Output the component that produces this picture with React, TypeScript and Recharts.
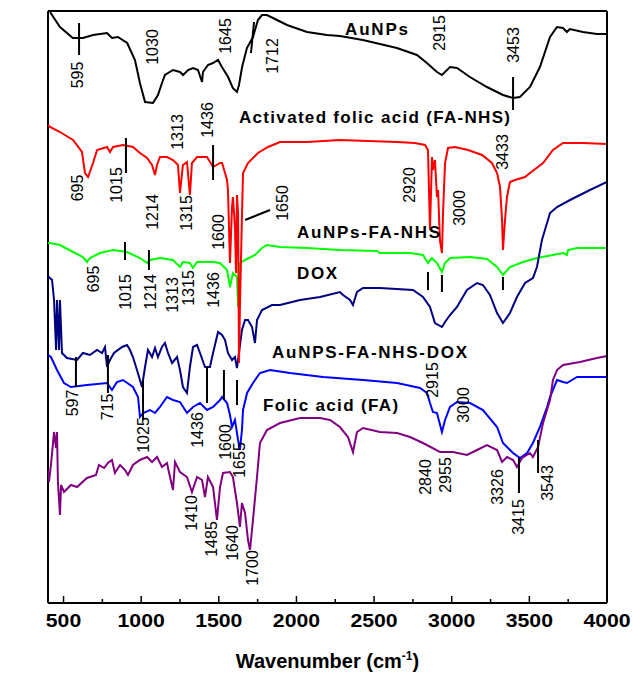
import React from "react";
import {
  LineChart,
  Line,
  XAxis,
  YAxis,
  ReferenceLine,
  ReferenceDot,
} from "recharts";

// FTIR spectra, [wavenumber (cm-1), transmittance (a.u.)]
const auNps: [number, number][] = [
  [413, 591], [477, 576], [560, 565], [600, 565], [625, 565], [690, 568], [780, 570],
  [812, 565], [850, 566], [910, 560], [960, 543], [992, 520], [1025, 501], [1076, 500],
  [1108, 508], [1134, 520], [1153, 528], [1205, 533], [1250, 531], [1270, 528], [1302, 533],
  [1334, 535], [1366, 533], [1392, 521], [1398, 531], [1430, 538], [1462, 540], [1495, 543],
  [1520, 536], [1560, 526], [1590, 515], [1617, 511], [1630, 518], [1650, 536], [1681, 555],
  [1720, 566], [1752, 583], [1778, 588], [1810, 588], [1849, 585], [1939, 578], [2068, 571],
  [2197, 568], [2280, 567], [2428, 563], [2647, 555], [2776, 548], [2840, 540], [2905, 531],
  [2937, 528], [2989, 536], [3034, 535], [3117, 526], [3227, 516], [3330, 508], [3394, 505],
  [3439, 506], [3504, 516], [3568, 536], [3633, 566], [3678, 576], [3716, 575], [3742, 571],
  [3761, 574], [3845, 571], [3935, 569], [4000, 569],
];

const faNhs: [number, number][] = [
  [400, 478], [413, 476], [477, 471], [561, 463], [619, 451], [638, 430], [658, 426],
  [690, 440], [716, 453], [780, 456], [799, 451], [819, 456], [883, 458], [947, 456],
  [992, 450], [1038, 445], [1070, 438], [1089, 428], [1102, 438], [1121, 446], [1166, 446],
  [1205, 443], [1237, 438], [1250, 410], [1269, 438], [1295, 441], [1314, 408], [1327, 440],
  [1360, 446], [1424, 446], [1463, 436], [1508, 440], [1521, 440], [1540, 430], [1553, 423],
  [1559, 413], [1572, 340], [1585, 396], [1591, 406], [1604, 376], [1611, 330], [1617, 408],
  [1624, 390], [1630, 240], [1636, 296], [1649, 386], [1656, 430], [1688, 440], [1752, 450],
  [1817, 456], [1894, 461], [2068, 461], [2280, 463], [2647, 461], [2763, 460], [2828, 458],
  [2847, 453], [2860, 373], [2873, 446], [2879, 433], [2892, 443], [2905, 406], [2912, 413],
  [2924, 363], [2937, 350], [2944, 390], [2957, 440], [2976, 455], [3021, 456], [3105, 453],
  [3195, 448], [3259, 440], [3292, 430], [3311, 416], [3324, 383], [3330, 353], [3343, 383],
  [3356, 406], [3375, 421], [3407, 423], [3472, 426], [3504, 430], [3588, 440], [3652, 453],
  [3717, 460], [3845, 460], [4000, 459],
];

const auNpsFaNhs: [number, number][] = [
  [400, 360], [413, 360], [477, 358], [561, 351], [625, 346], [651, 341], [670, 345],
  [735, 350], [819, 353], [909, 351], [992, 345], [1038, 340], [1057, 343], [1121, 345],
  [1205, 343], [1250, 336], [1269, 341], [1314, 340], [1334, 335], [1360, 341], [1424, 341],
  [1463, 341], [1508, 340], [1553, 333], [1572, 316], [1591, 330], [1617, 326], [1624, 296],
  [1636, 340], [1669, 343], [1733, 348], [1778, 355], [1810, 358], [1894, 356], [2068, 355],
  [2280, 353], [2519, 352], [2538, 350], [2731, 350], [2815, 348], [2847, 340], [2873, 345],
  [2905, 340], [2937, 331], [2957, 340], [2989, 345], [3118, 346], [3227, 344], [3292, 336],
  [3330, 328], [3375, 336], [3459, 341], [3549, 345], [3717, 350], [3742, 348], [3749, 353],
  [3807, 355], [4000, 355],
];

const dox: [number, number][] = [
  [400, 326], [406, 326], [426, 323], [439, 303], [452, 253], [458, 303], [471, 253],
  [477, 303], [490, 250], [522, 245], [587, 243], [625, 250], [670, 248], [716, 253],
  [748, 250], [767, 256], [780, 236], [799, 243], [825, 250], [877, 256], [909, 258],
  [928, 253], [947, 246], [973, 233], [992, 223], [1005, 216], [1025, 236], [1044, 253],
  [1070, 246], [1089, 255], [1108, 246], [1134, 256], [1153, 260], [1173, 250], [1199, 240],
  [1231, 246], [1250, 233], [1269, 216], [1295, 210], [1314, 236], [1334, 256], [1360, 258],
  [1379, 250], [1411, 236], [1443, 236], [1463, 250], [1495, 271], [1521, 268], [1540, 263],
  [1559, 250], [1585, 243], [1604, 246], [1617, 235], [1649, 273], [1669, 283], [1688, 283],
  [1714, 276], [1733, 260], [1746, 283], [1778, 293], [1843, 298], [1894, 298], [2023, 303],
  [2152, 306], [2280, 311], [2300, 308], [2345, 303], [2364, 298], [2390, 311], [2429, 315],
  [2538, 315], [2751, 313], [2815, 306], [2860, 296], [2892, 280], [2937, 276], [2957, 281],
  [2989, 288], [3034, 296], [3098, 313], [3163, 320], [3201, 318], [3246, 308], [3292, 290],
  [3330, 280], [3375, 290], [3420, 306], [3472, 320], [3523, 325], [3549, 336], [3581, 363],
  [3633, 390], [3678, 396], [3762, 403], [3890, 413], [4000, 421],
];

const auNpsFaNhsDox: [number, number][] = [
  [400, 248], [419, 246], [458, 233], [503, 220], [548, 216], [651, 218], [780, 220],
  [812, 213], [844, 221], [883, 223], [947, 216], [980, 206], [992, 186], [1012, 190],
  [1057, 193], [1089, 190], [1121, 196], [1166, 206], [1205, 203], [1250, 201], [1295, 190],
  [1334, 196], [1379, 200], [1424, 193], [1463, 196], [1508, 203], [1521, 206], [1553, 200],
  [1572, 188], [1585, 176], [1604, 183], [1624, 163], [1636, 153], [1649, 173], [1656, 193],
  [1682, 210], [1720, 220], [1765, 230], [1830, 233], [1958, 230], [2171, 226], [2429, 223],
  [2648, 220], [2796, 215], [2841, 210], [2860, 200], [2879, 191], [2905, 190], [2937, 171],
  [2957, 183], [2989, 196], [3034, 201], [3118, 200], [3201, 193], [3292, 176], [3330, 160],
  [3395, 150], [3440, 145], [3485, 150], [3523, 160], [3568, 176], [3614, 196], [3633, 206],
  [3678, 223], [3717, 221], [3742, 220], [3807, 226], [4000, 226],
];

const folicAcid: [number, number][] = [
  [400, 133], [406, 121], [419, 138], [439, 171], [452, 155], [458, 171], [464, 121],
  [477, 88], [484, 118], [503, 111], [548, 118], [587, 116], [651, 125], [709, 128],
  [728, 138], [761, 135], [786, 140], [812, 143], [831, 130], [864, 138], [896, 133],
  [915, 128], [947, 138], [992, 143], [1038, 146], [1070, 141], [1102, 146], [1134, 136],
  [1166, 140], [1186, 126], [1205, 113], [1218, 141], [1250, 131], [1295, 126], [1327, 111],
  [1360, 126], [1392, 123], [1411, 106], [1430, 126], [1463, 116], [1488, 83], [1508, 116],
  [1527, 130], [1572, 131], [1591, 126], [1617, 100], [1636, 76], [1649, 100], [1669, 90],
  [1688, 63], [1701, 53], [1720, 83], [1746, 126], [1765, 160], [1810, 173], [1894, 180],
  [2023, 185], [2152, 185], [2216, 183], [2280, 176], [2332, 166], [2364, 151], [2390, 171],
  [2429, 175], [2538, 171], [2648, 170], [2731, 166], [2815, 160], [2924, 151], [3008, 151],
  [3098, 148], [3163, 153], [3227, 158], [3292, 153], [3324, 141], [3356, 146], [3395, 143],
  [3420, 136], [3453, 145], [3504, 150], [3523, 146], [3556, 156], [3588, 180], [3633, 203],
  [3652, 223], [3678, 233], [3717, 238], [3826, 241], [3935, 245], [4000, 247],
];

// peak labels: [text, wavenumber, transmittance]
const peakLabels: [string, number, number][] = [
  ["595", 593, 528], ["1030", 1076, 556], ["1645", 1540, 567], ["1712", 1843, 547],
  ["2915", 2924, 570], ["3453", 3395, 558],
  ["695", 593, 415], ["1015", 844, 418], ["1214", 1070, 391], ["1313", 1231, 471],
  ["1315", 1295, 390], ["1436", 1430, 483], ["1600", 1495, 371], ["1650", 1907, 400],
  ["2920", 2731, 418], ["3000", 3053, 395], ["3433", 3330, 451],
  ["695", 690, 324], ["1015", 896, 311], ["1214", 1057, 311], ["1313", 1205, 308],
  ["1315", 1302, 315], ["1436", 1463, 313],
  ["597", 555, 200], ["715", 786, 196], ["1025", 1012, 168], ["1436", 1366, 173],
  ["1600", 1540, 161], ["1655", 1636, 143], ["2915", 2873, 223], ["3000", 3073, 198],
  ["1410", 1327, 90], ["1485", 1456, 64], ["1640", 1591, 60], ["1700", 1720, 35],
  ["2840", 2828, 126], ["2955", 2957, 128], ["3326", 3292, 116], ["3415", 3427, 86],
  ["3543", 3620, 120],
];

// peak markers: [wn1, t1, wn2, t2]
const peakMarks: [number, number, number, number][] = [
  [600, 580, 600, 548], [1727, 581, 1707, 550], [3395, 526, 3395, 493],
  [902, 465, 902, 430], [1463, 458, 1463, 423], [1669, 383, 1830, 393],
  [896, 361, 896, 343], [1050, 353, 1050, 333], [2847, 331, 2847, 313],
  [2937, 328, 2937, 311], [3330, 326, 3330, 313],
  [580, 246, 580, 216], [786, 248, 786, 210], [1012, 223, 1012, 183],
  [1424, 236, 1424, 200], [1533, 233, 1533, 203], [1617, 223, 1617, 198],
  [3433, 145, 3433, 110], [3556, 163, 3556, 130],
];

// sample names: [text, wavenumber, transmittance, width px]
const sampleNames: [string, number, number, number][] = [
  ["AuNPs", 2313, 574, 63],
  ["Activated folic acid (FA-NHS)", 1630, 486, 271],
  ["AuNPs-FA-NHS", 2004, 371, 143],
  ["DOX", 2004, 330, 40],
  ["AuNPS-FA-NHS-DOX", 1843, 251, 195],
  ["Folic acid (FA)", 1785, 198, 135],
];

const xTicks = [500, 750, 1000, 1250, 1500, 1750, 2000, 2250, 2500, 2750, 3000, 3250, 3500, 3750, 4000];

// plot frame in data units: left, right, top, bottom
const frame: [number, number, number, number][] = [
  [400, 0, 400, 592],
  [4000, 0, 4000, 592],
  [400, 0, 4000, 0],
  [400, 592, 4000, 592],
];

const PLOT_H = 592;

const series = [
  { name: "AuNPs", data: auNps, color: "#000000" },
  { name: "AuNPs-FA-NHS", data: auNpsFaNhs, color: "#00ff00" },
  { name: "DOX", data: dox, color: "#000080" },
  { name: "AuNPS-FA-NHS-DOX", data: auNpsFaNhsDox, color: "#0000ff" },
  { name: "Folic acid (FA)", data: folicAcid, color: "#800080" },
  { name: "FA-NHS", data: faNhs, color: "#ff0000" },
];

const FONT = "Arial, 'Liberation Sans', sans-serif";

const XTick = (props: any) => {
  const { x, y, payload } = props;
  const major = payload.value % 500 === 0;
  const last = payload.value === 4000;
  return (
    <g>
      <line
        x1={x}
        x2={x}
        y1={y}
        y2={y - (last ? PLOT_H : major ? 7 : 4)}
        stroke="#000"
        strokeWidth={last ? 2 : 1.5}
      />
      {major && (
        <text
          x={x}
          y={y + 24}
          textAnchor="middle"
          fontFamily={FONT}
          fontWeight="bold"
          fontSize={18}
          textLength={String(payload.value).length * 11.8}
          lengthAdjust="spacingAndGlyphs"
          fill="#000"
        >
          {payload.value}
        </text>
      )}
    </g>
  );
};

const XTitle = (props: any) => {
  const { x, y, width } = props.viewBox;
  return (
    <text
      x={x + width / 2}
      y={y + 65}
      textAnchor="middle"
      fontFamily={FONT}
      fontWeight="bold"
      fontSize={20}
      fill="#000"
    >
      Wavenumber (cm
      <tspan fontSize={12} dy={-8}>-1</tspan>
      <tspan dy={8}>)</tspan>
    </text>
  );
};

const YTitle = (props: any) => {
  const { x, y, height } = props.viewBox;
  const cx = x - 28;
  const cy = y + height / 2 + 22;
  return (
    <text
      x={cx}
      y={cy}
      transform={`rotate(-90, ${cx}, ${cy})`}
      textAnchor="middle"
      dominantBaseline="central"
      fontFamily={FONT}
      fontWeight="bold"
      fontSize={21}
      textLength={258}
      lengthAdjust="spacingAndGlyphs"
      fill="#000"
    >
      % Transmittance (a.u.)
    </text>
  );
};

const App = () => {
  return (
    <div style={{ position: "absolute", left: 0, top: 0, background: "#fff" }}>
      <LineChart
        width={633}
        height={675}
        margin={{ top: 11, right: 26, left: 48, bottom: 42 }}
      >
        <XAxis
          type="number"
          dataKey="wn"
          domain={[400, 4000]}
          ticks={xTicks}
          allowDataOverflow
          interval={0}
          height={30}
          tickSize={0}
          tickMargin={0}
          tickLine={false}
          axisLine={false}
          tick={<XTick />}
          label={{ content: <XTitle /> }}
        />
        <YAxis
          type="number"
          dataKey="t"
          domain={[0, 592]}
          allowDataOverflow
          width={0}
          tick={false}
          tickLine={false}
          axisLine={false}
          label={{ content: <YTitle /> }}
        />
        {frame.map(([x1, y1, x2, y2], i) => (
          <ReferenceLine
            key={`f-${i}`}
            segment={[{ x: x1, y: y1 }, { x: x2, y: y2 }]}
            stroke="#000"
            strokeWidth={2}
            ifOverflow="visible"
          />
        ))}
        {series.map((s) => (
          <Line
            key={s.name}
            data={s.data.map(([wn, t]) => ({ wn, t }))}
            dataKey="t"
            type="linear"
            stroke={s.color}
            strokeWidth={2}
            dot={false}
            activeDot={false}
            isAnimationActive={false}
          />
        ))}
        {peakMarks.map(([x1, y1, x2, y2], i) => (
          <ReferenceLine
            key={`m-${i}`}
            segment={[{ x: x1, y: y1 }, { x: x2, y: y2 }]}
            stroke="#000"
            strokeWidth={2}
            ifOverflow="visible"
          />
        ))}
        {peakLabels.map(([text, wn, t], i) => (
          <ReferenceDot
            key={`p-${i}`}
            x={wn}
            y={t}
            r={0}
            ifOverflow="visible"
            shape={(p: any) => (
              <text
                x={p.cx}
                y={p.cy}
                transform={`rotate(-90, ${p.cx}, ${p.cy})`}
                textAnchor="middle"
                dominantBaseline="central"
                fontFamily={FONT}
                fontSize={16}
                fill="#000"
              >
                {text}
              </text>
            )}
          />
        ))}
        {sampleNames.map(([text, wn, t, w], i) => (
          <ReferenceDot
            key={`n-${i}`}
            x={wn}
            y={t}
            r={0}
            ifOverflow="visible"
            shape={(p: any) => (
              <text
                x={p.cx}
                y={p.cy}
                dominantBaseline="central"
                fontFamily={FONT}
                fontWeight="bold"
                fontSize={17}
                textLength={w}
                lengthAdjust="spacing"
                fill="#000"
              >
                {text}
              </text>
            )}
          />
        ))}
      </LineChart>
    </div>
  );
};

export default App;
